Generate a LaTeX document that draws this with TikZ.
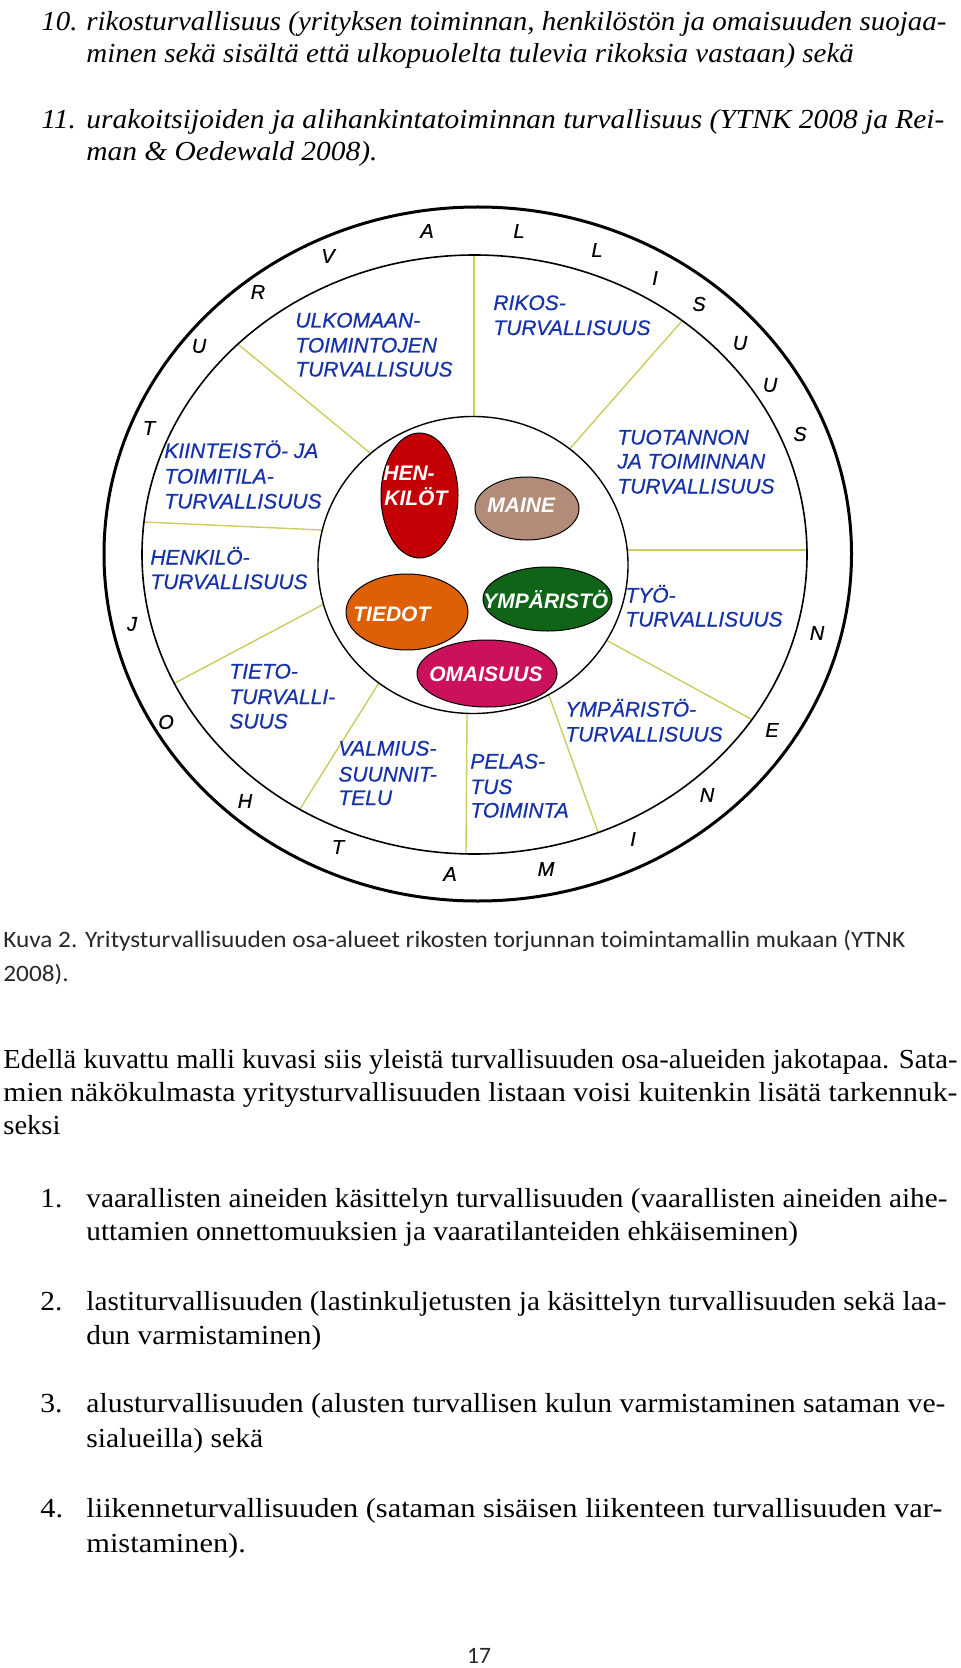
\documentclass[tikz,border=0pt]{standalone}
\usepackage{fontspec}
\usepackage{graphicx}
\setmainfont{Liberation Serif}
\newfontfamily\arialf{Liberation Sans}
\newfontfamily\arialfb{Liberation Sans}[FakeBold=0.5]
\newfontfamily\capfont{Carlito}
\usetikzlibrary{shapes.geometric,calc}
\definecolor{cred}{RGB}{196,0,6}
\definecolor{cmaine}{RGB}{178,140,120}
\definecolor{corange}{RGB}{222,96,6}
\definecolor{cgreen}{RGB}{16,100,24}
\definecolor{cmag}{RGB}{204,17,92}
\definecolor{cblue}{RGB}{22,50,168}
\definecolor{cline}{RGB}{204,204,96}
\definecolor{ccap}{RGB}{40,40,40}
\newlength\natw
\newcommand\bodyf{\rmfamily\fontsize{13.75}{16}\selectfont}
\newcommand\capf{\capfont\fontsize{11.75}{14}\selectfont}
\newcommand\mysq[3]{\settowidth\natw{#3}\pgfmathsetmacro#1{#2/\natw}}
\AtBeginDocument{%
\mysq\sqA{430}{\bodyf\itshape rikosturvallisuus (yrityksen toiminnan, henkilöstön ja omaisuuden suojaa-}%
\mysq\sqB{429}{\bodyf\itshape urakoitsijoiden ja alihankintatoiminnan turvallisuus (YTNK 2008 ja Rei-}%
\mysq\sqC{451}{\capf Kuva 2. Yritysturvallisuuden osa-alueet rikosten torjunnan toimintamallin mukaan (YTNK}%
\mysq\sqD{477}{\bodyf Edellä kuvattu malli kuvasi siis yleistä turvallisuuden osa-alueiden jakotapaa. Sata-}%
\mysq\sqE{477}{\bodyf mien näkökulmasta yritysturvallisuuden listaan voisi kuitenkin lisätä tarkennuk-}%
\mysq\sqF{430.5}{\bodyf vaarallisten aineiden käsittelyn turvallisuuden (vaarallisten aineiden aihe-}%
\mysq\sqG{430}{\bodyf lastiturvallisuuden (lastinkuljetusten ja käsittelyn turvallisuuden sekä laa-}%
\mysq\sqH{429.5}{\bodyf alusturvallisuuden (alusten turvallisen kulun varmistaminen sataman ve-}%
\mysq\sqJ{428}{\bodyf liikenneturvallisuuden (sataman sisäisen liikenteen turvallisuuden var-}%
}
\begin{document}
\begin{tikzpicture}[x=0.5pt,y=-0.5pt,
  body/.style={inner sep=0pt, anchor=base west, font=\bodyf},
  captxt/.style={inner sep=0pt, anchor=base west, font=\capf, text=ccap},
  ringl/.style={inner sep=0pt, anchor=center, font=\arialfb\itshape\fontsize{10}{11}\selectfont},
  sect/.style={inner sep=0pt, anchor=base west, text=cblue, font=\arialfb\itshape\fontsize{10.5}{12}\selectfont},
  blob/.style={ellipse, draw=black, line width=0.5pt, inner sep=0pt},
  blobtxt/.style={inner sep=0pt, anchor=base west, text=white, font=\arialf\bfseries\itshape\fontsize{10.5}{12}\selectfont},
  radial/.style={draw=cline, line width=0.7pt}
]
\useasboundingbox (0,0) rectangle (960,1668);
\fill[white] (0,0) rectangle (960,1668);

% ---- top text
\node[body] (n10) at (41,31) {\itshape\scalebox{\sqA}[1]{10.}};
\node[body] (l10a) at (86,31) {\itshape\scalebox{\sqA}[1]{rikosturvallisuus (yrityksen toiminnan, henkilöstön ja omaisuuden suojaa-}};
\node[body] (l10b) at (86,63) {\itshape\scalebox{\sqA}[1]{minen sekä sisältä että ulkopuolelta tulevia rikoksia vastaan) sekä}};
\node[body] (n11) at (41,129) {\itshape\scalebox{\sqB}[1]{11.}};
\node[body] (l11a) at (86,129) {\itshape\scalebox{\sqB}[1]{urakoitsijoiden ja alihankintatoiminnan turvallisuus (YTNK 2008 ja Rei-}};
\node[body] (l11b) at (86,161) {\itshape\scalebox{\sqB}[1]{man \& Oedewald 2008).}};

% ---- diagram rings
\draw[line width=1.5pt] (477.75,554) ellipse [x radius=186.875pt, y radius=173.5pt];
\begin{scope}
\clip (474.5,554.5) ellipse [x radius=166.25pt, y radius=149.75pt];
\foreach \ax/\ay/\bx/\by in {474/417/474/255, 364/448/239/345, 322/530/143/522,
  324/604/175/683, 377/686/300/809, 467/714/466/853, 549/695.5/598/832,
  606/640/751/719, 627.5/550/805/550, 574/444/681/322}
  \draw[radial] ($(\ax,\ay)!-0.3!(\bx,\by)$) -- ($(\ax,\ay)!1.4!(\bx,\by)$);
\end{scope}
\draw[line width=0.8pt] (474.5,554.5) ellipse [x radius=166.25pt, y radius=149.75pt];
\draw[line width=0.7pt, fill=white] (473,565) ellipse [x radius=77.5pt, y radius=74.25pt];

% ---- ring letters
\foreach \ch/\px/\py [count=\i] in {T/149/428, U/199/346, R/258/292, V/328/256, A/427/231,
  L/519/231, L/597/250, I/655/278, S/699/304, U/740/343, U/770/385, S/800/434,
  J/132/624, O/166/722, H/245/801, T/338/847, A/450/874, M/546/869, I/633/839,
  N/707/795, E/772/730, N/817/633}
  \node[ringl] (rl\i) at (\px,\py) {\ch};

% ---- blobs
\node[blob, fill=cred, minimum width=38.5pt, minimum height=62.5pt] (henk) at (419.5,495.5) {};
\node[blob, fill=cmaine, minimum width=52pt, minimum height=31.5pt] (maine) at (527,508.5) {};
\node[blob, fill=corange, minimum width=61pt, minimum height=38pt] (tiedot) at (407,612) {};
\node[blob, fill=cgreen, minimum width=64.5pt, minimum height=32pt] (ymp) at (547.5,599) {};
\node[blob, fill=cmag, minimum width=70pt, minimum height=33.5pt] (omai) at (487,673.5) {};
\node[blobtxt] (henk1) at (383,480.5) {HEN-};
\node[blobtxt] (henk2) at (384,505) {KILÖT};
\node[blobtxt] (mainet) at (487,512) {MAINE};
\node[blobtxt] (tiedott) at (353,621) {TIEDOT};
\node[blobtxt] (ympt) at (483,608) {YMPÄRISTÖ};
\node[blobtxt] (omait) at (429,681) {OMAISUUS};

% ---- sector labels
\node[sect] (s1a) at (295,327.5) {ULKOMAAN-};
\node[sect] (s1b) at (295,352.5) {TOIMINTOJEN};
\node[sect] (s1c) at (295,376.5) {TURVALLISUUS};
\node[sect] (s2a) at (493,310) {RIKOS-};
\node[sect] (s2b) at (493,335) {TURVALLISUUS};
\node[sect] (s3a) at (164,458) {KIINTEISTÖ- JA};
\node[sect] (s3b) at (164,483.5) {TOIMITILA-};
\node[sect] (s3c) at (164,508.5) {TURVALLISUUS};
\node[sect] (s4a) at (617,444.5) {TUOTANNON};
\node[sect] (s4b) at (617,468.5) {JA TOIMINNAN};
\node[sect] (s4c) at (617,493.5) {TURVALLISUUS};
\node[sect] (s5a) at (150,564.5) {HENKILÖ-};
\node[sect] (s5b) at (150,589) {TURVALLISUUS};
\node[sect] (s6a) at (625,602.5) {TYÖ-};
\node[sect] (s6b) at (625,626.5) {TURVALLISUUS};
\node[sect] (s7a) at (229,678.5) {TIETO-};
\node[sect] (s7b) at (229,704) {TURVALLI-};
\node[sect] (s7c) at (229,728.5) {SUUS};
\node[sect] (s8a) at (565,716.5) {YMPÄRISTÖ-};
\node[sect] (s8b) at (565,741.5) {TURVALLISUUS};
\node[sect] (s9a) at (338,755.5) {VALMIUS-};
\node[sect] (s9b) at (338,781.5) {SUUNNIT-};
\node[sect] (s9c) at (338,805) {TELU};
\node[sect] (s10a) at (470,768.5) {PELAS-};
\node[sect] (s10b) at (470,794) {TUS};
\node[sect] (s10c) at (470,817.5) {TOIMINTA};

% ---- caption
\node[captxt] (cap1) at (3,947) {\scalebox{\sqC}[1]{Kuva 2. Yritysturvallisuuden osa-alueet rikosten torjunnan toimintamallin mukaan (YTNK}};
\node[captxt] (cap2) at (3,981) {\scalebox{\sqC}[1]{2008).}};

% ---- paragraph
\node[body] (p1) at (3,1068) {\scalebox{\sqD}[1]{Edellä kuvattu malli kuvasi siis yleistä turvallisuuden osa-alueiden jakotapaa. Sata-}};
\node[body] (p2) at (3,1101) {\scalebox{\sqE}[1]{mien näkökulmasta yritysturvallisuuden listaan voisi kuitenkin lisätä tarkennuk-}};
\node[body] (p3) at (3,1134) {\scalebox{\sqD}[1]{seksi}};

% ---- list
\node[body] (i1n) at (40,1207) {\scalebox{\sqF}[1]{1.}};
\node[body] (i1a) at (86,1207) {\scalebox{\sqF}[1]{vaarallisten aineiden käsittelyn turvallisuuden (vaarallisten aineiden aihe-}};
\node[body] (i1b) at (86,1240) {\scalebox{\sqF}[1]{uttamien onnettomuuksien ja vaaratilanteiden ehkäiseminen)}};
\node[body] (i2n) at (40,1310) {\scalebox{\sqG}[1]{2.}};
\node[body] (i2a) at (86,1310) {\scalebox{\sqG}[1]{lastiturvallisuuden (lastinkuljetusten ja käsittelyn turvallisuuden sekä laa-}};
\node[body] (i2b) at (86,1344) {\scalebox{\sqG}[1]{dun varmistaminen)}};
\node[body] (i3n) at (40,1412) {\scalebox{\sqH}[1]{3.}};
\node[body] (i3a) at (86,1412) {\scalebox{\sqH}[1]{alusturvallisuuden (alusten turvallisen kulun varmistaminen sataman ve-}};
\node[body] (i3b) at (86,1447) {\scalebox{\sqH}[1]{sialueilla) sekä}};
\node[body] (i4n) at (40,1517) {\scalebox{\sqJ}[1]{4.}};
\node[body] (i4a) at (86,1517) {\scalebox{\sqJ}[1]{liikenneturvallisuuden (sataman sisäisen liikenteen turvallisuuden var-}};
\node[body] (i4b) at (86,1552) {\scalebox{\sqJ}[1]{mistaminen).}};

% ---- page number
\node[inner sep=0pt, anchor=base, font=\capf, text=ccap] (pg) at (479,1663) {17};
\end{tikzpicture}
\end{document}
